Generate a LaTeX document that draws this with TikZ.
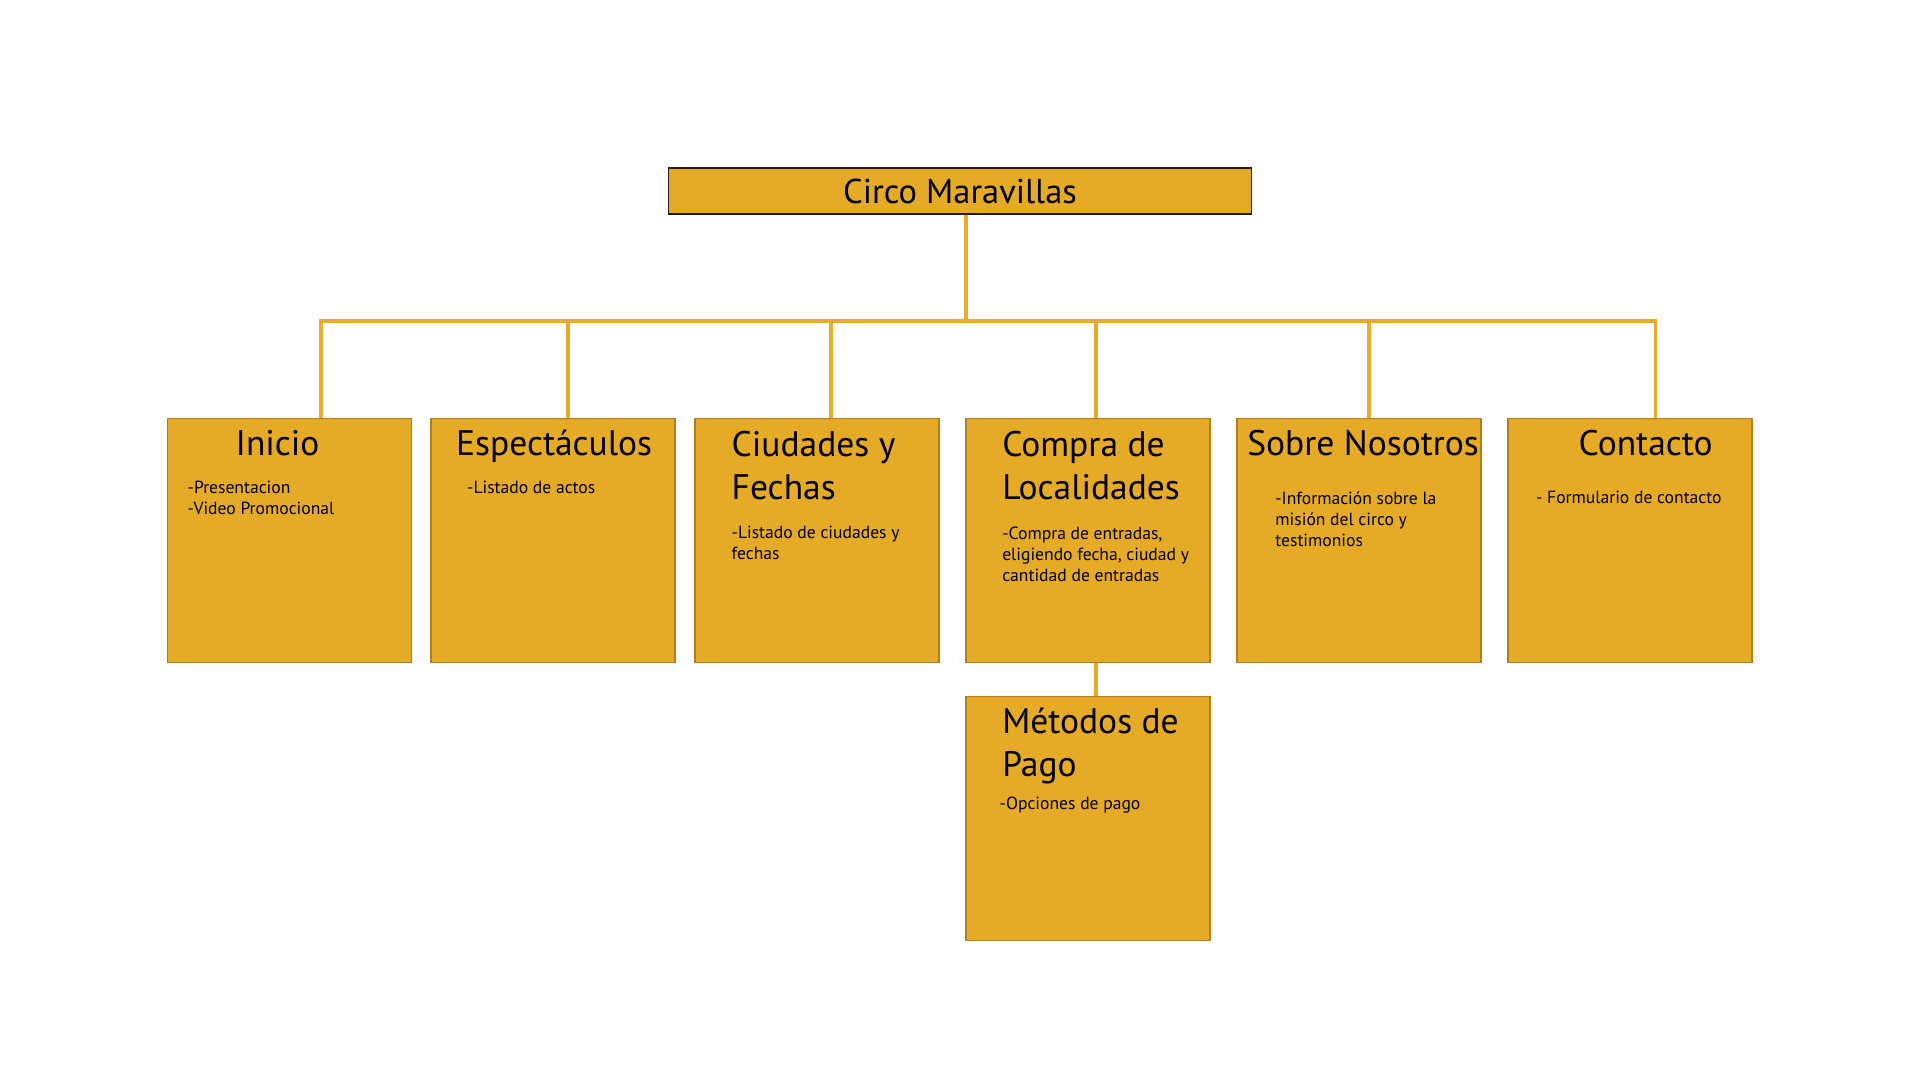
\documentclass[tikz,border=0pt]{standalone}
\usepackage{fontspec}
\setmainfont{PT Sans}
\definecolor{circogold}{RGB}{229,170,38}
\definecolor{circoedge}{RGB}{176,128,30}
\definecolor{circoline}{RGB}{232,172,42}
\definecolor{circodark}{RGB}{35,30,20}
\usetikzlibrary{positioning,calc}
\tikzset{
  seccion/.style={draw=circoedge, fill=circogold, line width=0.45pt, minimum width=2.44cm, minimum height=2.44cm, inner sep=0},
  titulo/.style={anchor=base west, inner sep=0, align=left, font=\fontsize{10.1}{12.3}\selectfont},
  detalle/.style={anchor=base west, inner sep=0, align=left, font=\fontsize{5.0}{6}\selectfont},
  rama/.style={draw=circoline, line width=1.1pt}
}

\begin{document}
\begin{tikzpicture}
  \useasboundingbox (0,0) rectangle (19.2,10.8);

  % Root
  \node[draw=circodark, fill=circogold, line width=0.5pt, minimum width=5.83cm, minimum height=0.465cm, inner sep=0,
        font=\fontsize{9.8}{12}\selectfont] (raiz) at (9.60,8.89) {Circo Maravillas};

  % Sections
  \node[seccion] (inicio)   at (2.896,5.394) {};
  \node[seccion] (espect)   at (5.528,5.394) {};
  \node[seccion] (ciudades) at (8.168,5.394) {};
  \node[seccion] (compra)   at (10.880,5.394) {};
  \node[seccion] (sobre)    at (13.590,5.394) {};
  \node[seccion] (contacto) at (16.300,5.394) {};
  \node[seccion] (pago)     at (10.880,2.615) {};

  % Bus and drops
  \coordinate (bus) at (9.66,7.592);
  \coordinate (b1) at (3.208,7.592);
  \coordinate (b2) at (5.682,7.592);
  \coordinate (b3) at (8.314,7.592);
  \coordinate (b4) at (10.959,7.592);
  \coordinate (b5) at (13.690,7.592);
  \coordinate (b6) at (16.555,7.592);
  \draw[rama] (raiz.south -| bus) -- (bus);
  \draw[rama] (b1 |- inicio.north) -- (b1) -- (b6) -- (b6 |- contacto.north);
  \draw[rama] (b2) -- (b2 |- espect.north);
  \draw[rama] (b3) -- (b3 |- ciudades.north);
  \draw[rama] (b4) -- (b4 |- compra.north);
  \draw[rama] (b5) -- (b5 |- sobre.north);
  \draw[rama] (b4 |- compra.south) -- (b4 |- pago.north);

  % Texts (multi-line nodes sit on their last baseline)
  \node[titulo] (t1) at (2.35,6.245) {Inicio};
  \node[detalle] (d1) at (1.87,5.655) {-Presentacion\\-Video Promocional};

  \node[titulo] (t2) at (4.555,6.245) {Espectáculos};
  \node[detalle] (d2) at (4.665,5.865) {-Listado de actos};

  \node[titulo] (t3) at (7.31,5.805) {Ciudades y\\Fechas};
  \node[detalle] (d3) at (7.31,5.205) {-Listado de ciudades y\\fechas};

  \node[titulo] (t4) at (10.016,5.805) {Compra de\\Localidades};
  \node[detalle] (d4) at (10.016,4.985) {-Compra de entradas,\\eligiendo fecha, ciudad y\\cantidad de entradas};

  \node[titulo] (t5) at (12.466,6.245) {Sobre Nosotros};
  \node[detalle] (d5) at (12.747,5.335) {-Información sobre la\\misión del circo y\\testimonios};

  \node[titulo] (t6) at (15.78,6.245) {Contacto};
  \node[detalle] (d6) at (15.355,5.765) {- Formulario de contacto};

  \node[titulo] (t7) at (10.016,3.035) {Métodos de\\Pago};
  \node[detalle] (d7) at (9.99,2.70) {-Opciones de pago};
\end{tikzpicture}
\end{document}
